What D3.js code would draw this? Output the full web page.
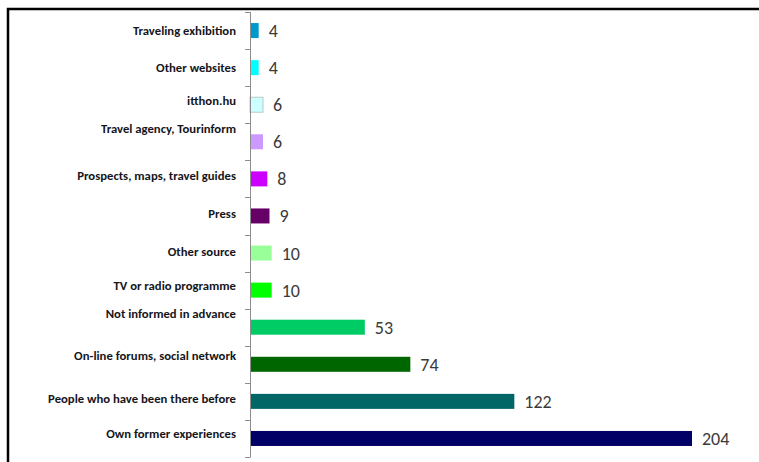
<!DOCTYPE html>
<html>
<head>
<meta charset="utf-8">
<script src="https://cdn.jsdelivr.net/npm/d3@7"></script>
<style>
  html, body { margin: 0; padding: 0; background: #fff; }
  svg { display: block; }
</style>
</head>
<body>
<div class="vis-bars"></div>
<script>
// data (top to bottom)
const categories = [
  "Traveling exhibition",
  "Other websites",
  "itthon.hu",
  "Travel agency, Tourinform",
  "Prospects, maps, travel guides",
  "Press",
  "Other source",
  "TV or radio programme",
  "Not informed in advance",
  "On-line forums, social network",
  "People who have been there before",
  "Own former experiences"
];
const values = [4, 4, 6, 6, 8, 9, 10, 10, 53, 74, 122, 204];
const barColors = [
  "#0099cc", "#00ffff", "#ccffff", "#cc99ff", "#cc00ff", "#660066",
  "#99ff99", "#00ff00", "#00cc66", "#006600", "#006666", "#000066"
];
// category labels in the original sit a bit higher than the bar for some rows
const labelShift = [0, 0, -4, -13, -3, -2, -1, -5, -14, -9, -3, -5];

const draw = () => {
  d3.selectAll(".vis-bars > *").remove();
  const width = 759;
  const height = 462;

  const svg = d3
    .select(".vis-bars")
    .append("svg")
    .attr("width", width)
    .attr("height", height);

  // frame
  svg
    .append("rect")
    .attr("x", 8)
    .attr("y", 9)
    .attr("width", 800)
    .attr("height", 500)
    .attr("fill", "none")
    .attr("stroke", "#000")
    .attr("stroke-width", 2.5);

  const x0 = 250;
  const xScale = d3.scaleLinear().domain([0, 204]).range([x0, 692]);
  const yScale = d3
    .scaleBand()
    .domain(categories)
    .range([12, 457])
    .paddingInner(0)
    .paddingOuter(0);

  const barH = 15;
  const data = categories.map((c, i) => ({
    name: c,
    value: values[i],
    color: barColors[i],
    shift: labelShift[i]
  }));

  const g = svg.append("g");

  // bars
  g.selectAll(".bar")
    .data(data)
    .enter()
    .append("rect")
    .attr("class", "bar")
    .attr("x", xScale(0))
    .attr("y", (d) => yScale(d.name) + yScale.bandwidth() / 2 - barH / 2)
    .attr("width", (d) => xScale(d.value) - xScale(0))
    .attr("height", barH)
    .attr("fill", (d) => d.color)
    .attr("stroke", (d) => (d.name === "itthon.hu" ? "#b8c8c8" : "none"))
    .attr("stroke-width", 1);

  // value labels
  g.selectAll(".val")
    .data(data)
    .enter()
    .append("text")
    .attr("class", "val")
    .attr("x", (d) => xScale(d.value) + 10)
    .attr("y", (d) => yScale(d.name) + yScale.bandwidth() / 2)
    .attr("dy", "0.36em")
    .attr("font-family", "Carlito, 'Liberation Sans', sans-serif")
    .attr("font-size", 18)
    .attr("fill", "#3a3a3a")
    .text((d) => d.value);

  // y axis: line + ticks on band edges
  const axis = svg.append("g").attr("stroke", "#8c8c8c").attr("stroke-width", 1);
  axis
    .append("line")
    .attr("x1", x0 + 0.5)
    .attr("x2", x0 + 0.5)
    .attr("y1", yScale.range()[0])
    .attr("y2", yScale.range()[1]);
  const edges = categories.map((c) => yScale(c)).concat([yScale.range()[1]]);
  axis
    .selectAll(".tick")
    .data(edges)
    .enter()
    .append("line")
    .attr("x1", x0 - 5)
    .attr("x2", x0 + 0.5)
    .attr("y1", (d) => Math.round(d) + 0.5)
    .attr("y2", (d) => Math.round(d) + 0.5);

  // category labels
  svg
    .append("g")
    .selectAll("text")
    .data(data)
    .enter()
    .append("text")
    .attr("x", 236)
    .attr("y", (d) => yScale(d.name) + yScale.bandwidth() / 2 + d.shift)
    .attr("dy", "0.35em")
    .attr("text-anchor", "end")
    .attr("font-family", "Carlito, 'Liberation Sans', Arial, sans-serif")
    .attr("font-weight", "bold")
    .attr("font-size", 12.7)
    .attr("fill", "#151520")
    .text((d) => d.name);
};

draw();
</script>
</body>
</html>
